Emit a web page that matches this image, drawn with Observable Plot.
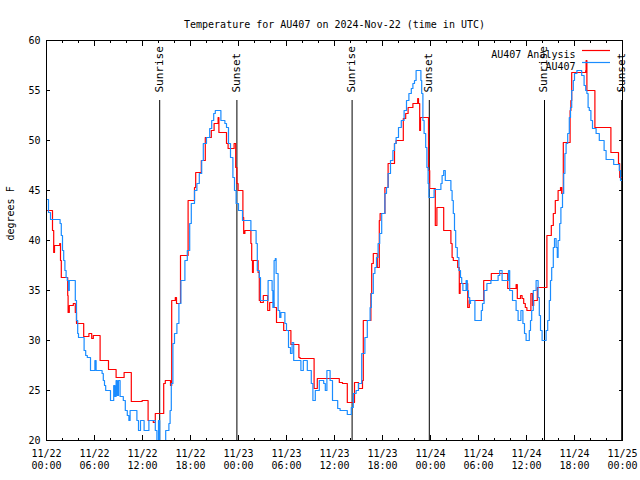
<!DOCTYPE html>
<html>
<head>
<meta charset="utf-8">
<script src="https://cdn.jsdelivr.net/npm/d3@7"></script>
<script src="https://cdn.jsdelivr.net/npm/@observablehq/plot@0.6"></script>
<style>
  html, body { margin: 0; padding: 0; background: white; }
  svg { display: block; }
</style>
</head>
<body>
<div id="chart"></div>
<script>
// Hours after 2024-11-22 00:00 UTC, temperature in degrees F
const analysis = [
  [0,43],[0.75,41],[0.9,38.8],[1.0,39.5],[1.65,39.7],[1.75,38],[1.85,36.3],[2.65,34.5],[2.7,32.8],[2.85,33.5],
  [3.35,33.7],[3.6,32.8],[3.75,31.7],[4.65,30.4],[5.3,30.7],[5.65,30.2],[5.85,30.5],[6.7,28],[7.75,27.1],[8.7,26.3],
  [9.7,26.8],[10.6,23.9],[11.95,24],[12.7,22],[13.35,21.8],[13.6,22.7],[14.65,25.7],[14.85,26],[15.5,25.5],[15.65,34],
  [16.1,34.3],[16.25,33.7],[16.75,38.5],[17.7,44],[18.5,45.3],[18.65,46.8],[19.35,48],[19.85,50.3],[20.6,51],[20.95,51.7],
  [21.45,52.3],[21.55,50.8],[22.5,49.7],[22.7,49.2],[23.45,49.7],[23.65,47.3],[23.8,45.7],[23.95,45],[24.55,42.3],[24.65,40.7],
  [24.8,41],[25.55,39.7],[25.65,38],[25.75,36.8],[25.85,38],[26.45,36.8],[26.6,34],[26.75,33.8],[27.1,34.5],[27.65,33],
  [27.9,33.8],[28.4,33.3],[28.75,31.8],[29.65,31],[30.55,29.6],[31.55,28.3],[31.7,28.2],[33.45,25.2],[33.85,26.2],[36.6,25.8],
  [37.0,25.7],[37.6,23.8],[38.5,25.8],[39.0,25.2],[39.5,26],[39.6,32],[40.55,34.7],[40.65,37.7],[40.85,38.7],[41.35,37.3],
  [41.6,42],[41.7,42.7],[42.3,45.3],[42.7,47.7],[43.5,49.7],[43.7,50],[44.6,52.2],[44.9,52.7],[45.2,53.3],[45.8,53.7],
  [46.4,54.2],[46.5,53.7],[46.65,51],[46.75,52.3],[47.75,47],[47.9,45.2],[48.6,41.5],[48.8,43.3],[49.65,41],[50.55,39.7],
  [50.7,38.3],[50.85,38],[51.4,37.3],[51.6,34.7],[51.7,35.7],[52.65,33.3],[52.85,34],[54.65,36],[55.6,36.7],[57.65,35.2],
  [58.7,35.6],[58.85,34.2],[59.25,34.5],[59.45,34.2],[59.65,33.7],[59.85,33.3],[60.05,33],[60.55,34.7],[60.75,33.5],[60.9,34],
  [61.35,35.3],[62.55,40.5],[63.1,41.5],[63.35,42.7],[63.6,44],[63.95,45],[64.25,45.3],[64.4,44.7],[64.6,49.8],[65.45,53],
  [65.55,54],[65.65,56.8],[67.4,57],[67.45,58],[67.55,55],[68.55,51.3],[70.55,48.8],[71.5,47.7],[71.65,46.3],[72,46.3]
];

const observed = [
  [0,44.1],[0.25,42.8],[0.5,42.1],[1.7,41.7],[1.85,40.5],[2.0,39],[2.15,38],[2.3,37],[2.45,36.3],[2.6,36],
  [2.75,35],[2.85,36],[3.6,34],[3.75,32],[3.9,30.7],[4.0,30.3],[4.7,29],[4.9,28.5],[5.1,28.3],[5.5,27],
  [6.05,28],[6.2,27],[6.95,26.7],[7.1,26],[7.25,25.5],[7.4,25],[8.0,24],[8.4,25.5],[8.55,24.4],[8.7,26],
  [8.85,24.5],[9.0,26],[9.2,24.4],[9.6,24],[9.85,23],[10.1,22.5],[10.3,22],[10.45,23],[11.3,22],[11.5,21],
  [11.75,22],[12.2,21],[12.8,22],[13.6,21],[13.8,20],[14.0,22],[14.15,20],[14.9,21],[15.3,21.7],[15.45,23],
  [15.6,25.7],[15.8,29.7],[16.0,30.7],[16.3,31.7],[16.55,33.7],[16.8,36],[17.3,38],[17.6,39],[17.9,41.7],[18.1,43.7],
  [18.5,45],[18.8,45.7],[19.1,46.7],[19.4,48],[19.6,49.7],[20.0,50.3],[20.4,51.2],[20.65,52],[20.9,52.7],[21.1,53],
  [21.8,52],[22.3,51.7],[22.5,51.3],[22.75,49.7],[23.0,48.3],[23.3,46.3],[23.5,45],[23.7,43.7],[24.0,43],[24.5,42],
  [25.55,41],[26.2,39.7],[26.35,37],[26.6,36.3],[26.75,34],[27.7,36],[28.2,35],[28.3,33.3],[28.45,38],[28.6,38.2],
  [28.7,36.7],[28.95,33],[29.15,32.3],[29.3,32.8],[29.8,31.7],[30.0,31],[30.25,29.3],[30.5,28.7],[30.7,29.8],[30.9,28],
  [31.8,27],[32.1,28],[32.6,27],[33.1,25.7],[33.3,24],[33.6,25],[34.1,26],[34.65,25.7],[34.85,25],[35.05,27],
  [35.45,26],[35.75,24],[36.4,23.2],[36.7,23],[37.6,22.6],[38.1,23.3],[38.35,24.7],[38.7,25],[39.0,25.7],[39.4,28.7],
  [39.8,30.3],[40.1,32],[40.45,33.3],[40.6,34.7],[40.85,36.7],[41.05,37.3],[41.25,38.3],[41.45,39.7],[41.65,40.7],[41.9,42.7],
  [42.3,44.7],[42.5,45.3],[42.7,46.7],[43.0,48],[43.3,49],[43.5,49.7],[43.7,50.3],[44.0,51.3],[44.35,52],[44.7,53],
  [45.0,54],[45.3,54.7],[45.6,55.2],[45.8,55.7],[46.0,56],[46.2,57],[46.8,56],[46.9,54.7],[47.05,52],[47.2,50.7],
  [47.4,49.3],[47.55,47.3],[47.7,45.7],[47.8,44.3],[48.45,45.1],[49.3,45.7],[49.45,46.5],[49.65,47],[49.85,46],[50.55,45],
  [50.7,44],[50.85,42.7],[51.0,41],[51.15,39.3],[51.35,38.3],[51.55,37],[51.75,36.3],[51.9,35.7],[52.05,35],[52.45,36],
  [52.6,35],[52.75,34.3],[52.9,33.7],[53.0,34],[53.55,32],[54.35,33],[54.5,33.7],[54.7,35],[55.05,35.7],[55.55,36],
  [56.45,36.5],[56.65,37],[56.95,36],[57.75,37],[57.9,35],[58.25,34],[58.7,33],[58.95,32],[59.3,33],[59.55,31.7],
  [59.75,30.7],[59.95,30],[60.35,31],[60.5,32],[60.65,33],[60.85,35],[61.2,36],[61.45,34.3],[61.6,32.5],[61.75,31],
  [61.95,30],[62.45,31],[62.65,32],[62.85,34],[63.0,36],[63.15,37.3],[63.35,39.3],[63.5,40.2],[63.7,39.3],[63.85,38.3],
  [63.95,40],[64.15,41.7],[64.3,43.3],[64.5,44.7],[64.65,46.7],[64.8,48.7],[64.95,49.7],[65.15,50.7],[65.35,52.3],[65.5,53.3],
  [65.65,55],[65.85,56],[66.0,56.7],[66.3,57],[66.9,56.5],[67.2,55.5],[67.4,55],[67.55,54.7],[67.7,53.3],[67.85,53],
  [68.05,52],[68.25,51.2],[68.7,50.7],[69.1,50],[69.7,49],[69.95,48.1],[70.9,47.6],[71.6,47],[71.75,46],[72,46]
];

const sunHours = [14.15, 23.8, 38.2, 47.85, 62.25, 71.9];
const sunLabels = ["Sunrise", "Sunset", "Sunrise", "Sunset", "Sunrise", "Sunset"];
const xLabelTicks = [0, 6, 12, 18, 24, 30, 36, 42, 48, 54, 60, 66, 72];
const yLabelTicks = [20, 25, 30, 35, 40, 45, 50, 55, 60];
const seriesNames = ["AU407 Analysis", "AU407"];
const seriesColors = ["#ff0000", "#1a8cff"];
const titleText = "Temperature for AU407 on 2024-Nov-22 (time in UTC)";
const yLabelText = "degrees F";
const startUTC = Date.UTC(2024, 10, 22);

const sun = sunHours.map((h, i) => ({hour: h, label: sunLabels[i]}));
const minorX = d3.range(0, 73, 2);
const fmt = d3.utcFormat("%m/%d\n%H:%M");
const font = "'DejaVu Sans Mono', 'Liberation Mono', monospace";

const plot = Plot.plot({
  width: 640,
  height: 480,
  marginLeft: 46,
  marginRight: 18,
  marginTop: 40,
  marginBottom: 40,
  style: {fontFamily: font, fontSize: "10px", background: "white", color: "black", overflow: "visible"},
  x: {domain: [0, 72]},
  y: {domain: [20, 60]},
  marks: [
    // ticks on all four sides, pointing inward
    Plot.axisX({anchor: "bottom", ticks: minorX, tickSize: -2, text: null, label: null}),
    Plot.axisX({anchor: "bottom", ticks: xLabelTicks, tickSize: -5, text: null, label: null}),
    Plot.axisX({anchor: "top", ticks: minorX, tickSize: -2, text: null, label: null}),
    Plot.axisX({anchor: "top", ticks: xLabelTicks, tickSize: -5, text: null, label: null}),
    Plot.axisY({anchor: "left", ticks: yLabelTicks, tickSize: -4, text: null, label: null}),
    Plot.axisY({anchor: "right", ticks: yLabelTicks, tickSize: -4, text: null, label: null}),
    Plot.axisX({anchor: "bottom", ticks: xLabelTicks, tickSize: 0, tickPadding: 8, label: null,
      lineHeight: 1.2, tickFormat: h => fmt(new Date(startUTC + h * 3600e3))}),
    Plot.axisY({anchor: "left", ticks: yLabelTicks, tickSize: 0, tickPadding: 6, label: null}),
    Plot.ruleX(sun, {x: "hour", insetTop: 60, stroke: "black", strokeWidth: 1}),
    Plot.text(sun, {x: "hour", text: "label", frameAnchor: "top", dy: 52, dx: -5, rotate: -90,
      textAnchor: "start", fill: "black", fontSize: 11}),
    Plot.line(analysis, {x: d => d[0], y: d => d[1], curve: "step-after", stroke: seriesColors[0], strokeWidth: 1.2}),
    Plot.line(observed, {x: d => d[0], y: d => d[1], curve: "step-after", stroke: seriesColors[1], strokeWidth: 1.2}),
    Plot.frame({stroke: "black"}),
    Plot.text([titleText], {text: d => d, frameAnchor: "top", dy: -20, fill: "black"}),
    Plot.text([yLabelText], {text: d => d, frameAnchor: "left", dx: -36, rotate: -90, fill: "black"}),
    Plot.text([seriesNames[0]], {text: d => d, frameAnchor: "top-right", dx: -47, dy: 10, textAnchor: "end", fill: "black"}),
    Plot.text([seriesNames[1]], {text: d => d, frameAnchor: "top-right", dx: -47, dy: 22, textAnchor: "end", fill: "black"})
  ]
});

// legend line samples
const svg = d3.select(plot);
seriesColors.forEach((c, i) => {
  svg.append("line")
    .attr("x1", 582).attr("x2", 610)
    .attr("y1", 50.5 + 12 * i).attr("y2", 50.5 + 12 * i)
    .attr("stroke", c).attr("stroke-width", 1.2);
});

document.getElementById("chart").appendChild(plot);
</script>
</body>
</html>
